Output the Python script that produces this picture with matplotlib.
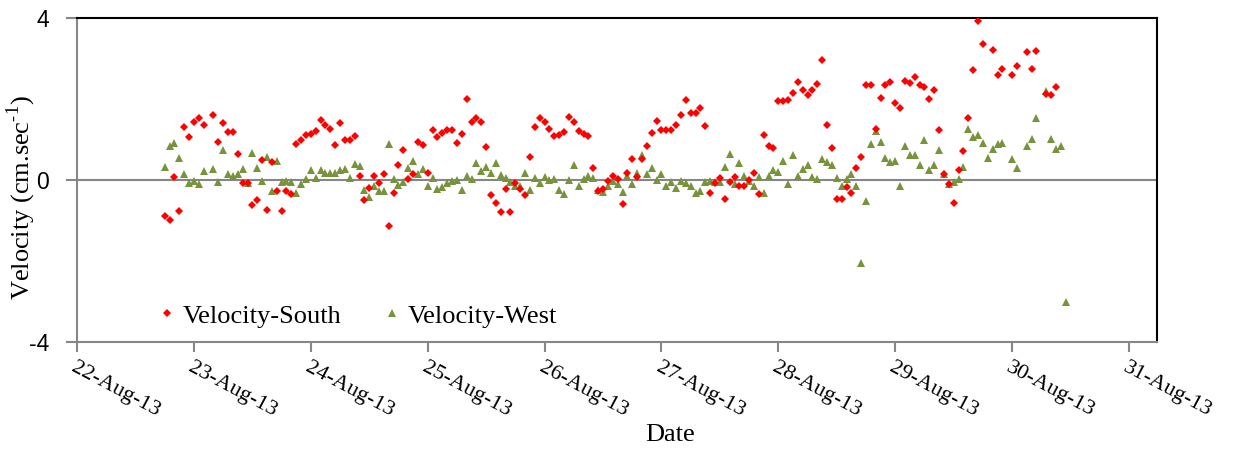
import matplotlib
matplotlib.use('Agg')
import matplotlib.pyplot as plt
import matplotlib.dates as mdates
import numpy as np
import pandas as pd

nan = np.nan

# hourly readings starting 22-Aug-13 18:00
start = '2013-08-22 18:00'

vel_south = [
    -0.90, -1.00, 0.07, -0.77, 1.32, 1.06, 1.43, 1.53, 1.35, nan,
    1.62, 0.94, 1.41, 1.18, 1.18, 0.65, -0.08, -0.08, -0.61, -0.49,
    0.50, -0.73, 0.44, -0.26, -0.77, -0.26, -0.34, 0.89, 0.98, 1.11,
    1.13, 1.21, 1.48, 1.37, 1.27, 0.87, 1.41, 0.98, 1.00, 1.08,
    0.09, -0.49, -0.19, 0.10, -0.07, 0.16, -1.13, -0.33, 0.37, 0.73,
    0.03, 0.15, 0.94, 0.87, 0.18, 1.24, 1.06, 1.16, 1.24, 1.24,
    0.92, 1.13, 2.01, 1.43, 1.54, 1.43, 0.81, -0.36, -0.57, -0.80,
    -0.23, -0.80, -0.08, -0.23, -0.37, 0.56, 1.31, 1.54, 1.43, 1.27,
    1.08, 1.12, 1.18, 1.55, 1.44, 1.21, 1.14, 1.10, 0.29, -0.26,
    -0.22, -0.03, 0.09, 0.03, -0.59, 0.18, 0.52, 0.07, 0.51, 0.85,
    1.17, 1.47, 1.23, 1.23, 1.24, 1.37, 1.60, 1.99, 1.66, 1.66,
    1.78, 1.33, -0.32, -0.07, 0.04, -0.48, -0.05, 0.07, -0.15, -0.14,
    0.01, 0.18, -0.34, 1.12, 0.85, 0.79, 1.95, 1.95, 1.97, 2.16,
    2.42, 2.23, 2.11, 2.22, 2.38, 2.96, 1.37, 0.80, -0.47, -0.47,
    -0.18, -0.32, 0.30, 0.56, 2.36, 2.36, 1.27, 2.03, 2.34, 2.42,
    1.90, 1.78, 2.46, 2.40, 2.54, 2.36, 2.31, 2.01, 2.22, 1.23,
    0.15, -0.09, -0.57, 0.24, 0.71, 1.53, 2.73, 3.93, 3.37, nan,
    3.22, 2.60, 2.74, nan, 2.60, 2.83, nan, 3.16, 2.75, 3.19,
    nan, 2.13, 2.11, 2.30, nan, nan,
]

vel_west = [
    0.33, 0.83, 0.91, 0.55, 0.15, -0.08, -0.03, -0.11, 0.22, nan,
    0.27, -0.05, 0.75, 0.15, 0.09, 0.15, 0.27, -0.07, 0.66, 0.30,
    -0.03, 0.56, -0.26, 0.46, -0.05, -0.03, -0.05, -0.33, -0.09, 0.02,
    0.24, 0.04, 0.25, 0.18, 0.18, 0.18, 0.25, 0.27, 0.04, 0.40,
    0.35, -0.24, -0.43, -0.14, -0.26, -0.28, 0.90, 0.03, -0.13, -0.05,
    0.30, 0.48, 0.15, 0.28, -0.14, 0.04, -0.22, -0.18, -0.08, -0.03,
    -0.01, -0.24, 0.11, 0.03, 0.42, 0.22, 0.32, 0.18, 0.43, 0.13,
    0.04, -0.05, -0.16, -0.14, 0.18, -0.24, 0.04, -0.08, 0.07, -0.01,
    0.02, -0.24, -0.34, 0.00, 0.38, -0.14, 0.03, 0.09, 0.04, -0.24,
    -0.30, -0.16, -0.03, -0.11, -0.30, 0.09, -0.09, 0.18, 0.61, 0.15,
    0.30, -0.01, 0.14, -0.14, -0.05, -0.20, -0.03, -0.08, -0.14, -0.33,
    -0.26, -0.05, -0.03, -0.05, -0.05, 0.33, 0.65, -0.11, 0.43, 0.09,
    -0.03, -0.15, 0.07, -0.32, 0.09, 0.24, 0.19, 0.48, -0.09, 0.63,
    0.11, 0.28, 0.38, 0.07, 0.03, 0.51, 0.44, 0.38, 0.04, -0.14,
    0.03, 0.14, -0.14, -2.05, -0.52, 0.90, 1.20, 0.94, 0.55, 0.44,
    0.47, -0.14, 0.85, 0.61, 0.63, 0.36, 0.99, 0.24, 0.38, 0.73,
    0.14, -0.11, -0.05, 0.03, 0.32, 1.27, 1.06, 1.12, 0.92, 0.55,
    0.77, 0.90, 0.91, nan, 0.51, 0.30, nan, 0.85, 1.02, 1.53,
    nan, 2.19, 1.02, 0.77, 0.85, -3.02,
]

times = pd.date_range(start, periods=len(vel_south), freq='h')

y_ticks = [-4, 0, 4]
x_start = pd.Timestamp('2013-08-22')
x_end = x_start + pd.Timedelta(days=9.24)

plt.rcParams['axes.unicode_minus'] = False
plt.rcParams['mathtext.fontset'] = 'custom'
plt.rcParams['mathtext.rm'] = 'Liberation Serif'

fig = plt.figure(figsize=(12.33, 4.5), dpi=100)
ax = fig.add_axes([0.0625, 0.2407, 0.8759, 0.7186])

gray = '#868686'
ax.axhline(0, color=gray, lw=1.5, zorder=1)

ax.plot(times, vel_south, linestyle='none', marker='D', ms=4, mew=0,
        color='#FF0000', label='Velocity-South', zorder=3)
ax.plot(times, vel_west, linestyle='none', marker='^', ms=6, mew=0,
        color='#77933C', label='Velocity-West', zorder=2)

ax.set_xlim(x_start, x_end)
ax.set_ylim(-4, 4)
ax.set_yticks(y_ticks)
ax.set_yticklabels([str(t) for t in y_ticks])

ax.xaxis.set_major_locator(mdates.DayLocator())
ax.xaxis.set_major_formatter(mdates.DateFormatter('%d-%b-%y'))

for side in ['top', 'right']:
    ax.spines[side].set_color('black')
    ax.spines[side].set_linewidth(1.5)
for side in ['left', 'bottom']:
    ax.spines[side].set_color(gray)
    ax.spines[side].set_linewidth(1.5)

ax.tick_params(axis='y', direction='out', length=8, width=1.5, color=gray,
               labelsize=16.5, pad=12)
ax.tick_params(axis='x', direction='out', length=7, width=1.5, color=gray,
               labelsize=16, pad=5)
for lbl in ax.get_yticklabels():
    lbl.set_fontfamily('Liberation Sans')
for lbl in ax.get_xticklabels():
    lbl.set_fontfamily('Liberation Serif')
    lbl.set_rotation(-28)
    lbl.set_ha('left')
    lbl.set_va('top')
    lbl.set_rotation_mode('anchor')

ax.set_ylabel('Velocity (cm.sec$^{\\text{-1}}$)', family='Liberation Serif',
              fontsize=19, va='center')
ax.yaxis.set_label_coords((21 - 77) / 1080, (341.7 - 197.5) / 323.4)
ax.set_xlabel('Date', family='Liberation Serif', fontsize=19, va='center')
ax.xaxis.set_label_coords((670 - 77) / 1080, (341.7 - 435) / 323.4)

ax.legend(loc='center left', bbox_to_anchor=((146 - 77) / 1080, (341.7 - 316) / 323.4),
          ncol=2, frameon=False, handlelength=0.8, handletextpad=0.2,
          columnspacing=1.5, borderaxespad=0,
          prop={'family': 'Liberation Serif', 'size': 19})

plt.savefig('out.png', dpi=100)
